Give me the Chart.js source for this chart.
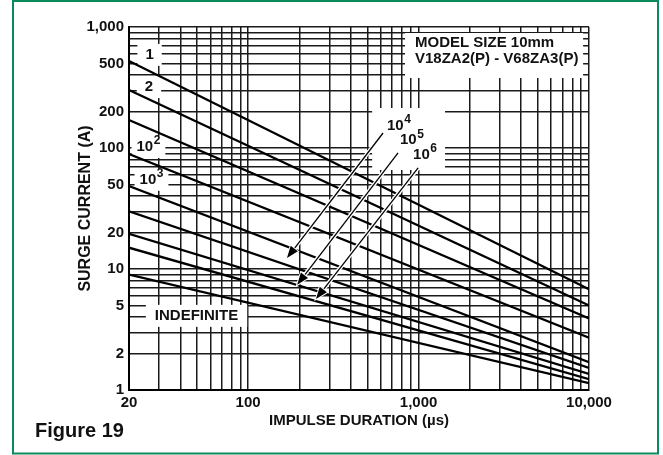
<!DOCTYPE html>
<html>
<head>
<meta charset="utf-8">
<script src="https://cdn.jsdelivr.net/npm/chart.js@4.4.1/dist/chart.umd.min.js"></script>
<style>
  html, body { margin: 0; padding: 0; background: #fff; }
</style>
</head>
<body>
<canvas id="Surge_Chart" width="663" height="455"></canvas>
<script>
// impulse duration (us) where every curve starts and ends
var Durations = [20, 10000];
// surge current (A) of each rating curve at 20us and at 10,000us
var Curve_1 = [524, 6.8];
var Curve_2 = [301, 5.0];
var Curve_10 = [170, 3.9];
var Curve_1e2 = [89, 2.7];
var Curve_1e3 = [48.5, 1.7];
var Curve_1e4 = [30, 1.52];
var Curve_1e5 = [19.5, 1.36];
var Curve_1e6 = [15, 1.23];
var Curve_Indefinite = [9, 1.14];
var Curve_Names = ['1', '2', '10', '10^2', '10^3', '10^4', '10^5', '10^6', 'INDEFINITE'];

// grid lines and tick labels
var X_Grid = [20,30,40,50,60,70,80,90,100,200,300,400,500,600,700,800,900,1000,2000,3000,4000,5000,6000,7000,8000,9000,10000];
var Y_Grid = [1,2,3,4,5,6,7,8,9,10,20,30,40,50,60,70,80,90,100,200,300,400,500,600,700,800,900,1000];
var X_Labels = [20, 100, 1000, 10000];
var Y_Labels = [1, 2, 5, 10, 20, 50, 100, 200, 500, 1000];

var FONT = "'Liberation Sans', Arial, Helvetica, sans-serif";

function fmt(v) {
  return v.toString().replace(/\B(?=(\d{3})+(?!\d))/g, ',');
}

function toPoints(values) {
  return values.map(function (v, i) { return { x: Durations[i], y: v }; });
}

var allCurves = [Curve_1, Curve_2, Curve_10, Curve_1e2, Curve_1e3, Curve_1e4, Curve_1e5, Curve_1e6, Curve_Indefinite];

// text put on the chart, placed in data units (us, A)
var Curve_Tags = [
  { base: '1', sup: '', x: 26.4, y: 588, padX: 8 },
  { base: '2', sup: '', x: 26.2, y: 319, padX: 8 },
  { base: '10', sup: '2', x: 26.0, y: 102, padX: 5 },
  { base: '10', sup: '3', x: 27.1, y: 54.6, padX: 5 },
  { base: 'INDEFINITE', sup: '', x: 49.8, y: 4.1, padX: 9 }
];
var Arrow_Tags = [
  { sup: '4', x: 653, y: 152, from: [619, 133], to: [169, 12.3] },
  { sup: '5', x: 778, y: 116, from: [758, 91], to: [194, 7.4] },
  { sup: '6', x: 929, y: 87.5, from: [994, 68.4], to: [250, 5.65] }
];
var Arrow_Box = { x1: 534, x2: 1430, y1: 214, y2: 65.8 };
var Model_Text = ['MODEL SIZE 10mm', 'V18ZA2(P) - V68ZA3(P)'];
var Model_Box = { x1: 833, x2: 9236, y1: 892, y2: 379, textX: 953, lineY: [737, 544] };

function supText(ctx, base, sup, x, y, centered) {
  ctx.font = 'bold 15px ' + FONT;
  var w1 = ctx.measureText(base).width;
  ctx.font = 'bold 12px ' + FONT;
  var w2 = sup ? ctx.measureText(sup).width + 0.5 : 0;
  var left = centered ? x - (w1 + w2) / 2 : x;
  ctx.fillStyle = '#111';
  ctx.textAlign = 'left';
  ctx.textBaseline = 'middle';
  ctx.font = 'bold 15px ' + FONT;
  ctx.fillText(base, left, y);
  if (sup) {
    ctx.font = 'bold 12px ' + FONT;
    ctx.fillText(sup, left + w1 + 0.5, y - 6);
  }
  return { left: left, width: w1 + w2 };
}

function drawArrow(ctx, x1, y1, x2, y2) {
  var a = Math.atan2(y2 - y1, x2 - x1), L = 12, W = 4.5;
  var bx = x2 - L * Math.cos(a), by = y2 - L * Math.sin(a);
  ctx.lineCap = 'butt';
  ctx.strokeStyle = '#fff';
  ctx.lineWidth = 4;
  ctx.beginPath(); ctx.moveTo(x1, y1); ctx.lineTo(bx, by); ctx.stroke();
  ctx.strokeStyle = '#000';
  ctx.lineWidth = 1.3;
  ctx.beginPath(); ctx.moveTo(x1, y1); ctx.lineTo(bx, by); ctx.stroke();
  ctx.beginPath();
  ctx.moveTo(x2, y2);
  ctx.lineTo(bx + W * Math.sin(a), by - W * Math.cos(a));
  ctx.lineTo(bx - W * Math.sin(a), by + W * Math.cos(a));
  ctx.closePath();
  ctx.strokeStyle = '#fff';
  ctx.lineWidth = 2;
  ctx.stroke();
  ctx.fillStyle = '#000';
  ctx.fill();
}

var notes = {
  id: 'notes',
  beforeDatasetsDraw: function (chart) {
    var ctx = chart.ctx, sx = chart.scales.x, sy = chart.scales.y;
    ctx.save();
    ctx.fillStyle = '#fff';
    // model box
    var mx1 = sx.getPixelForValue(Model_Box.x1), mx2 = sx.getPixelForValue(Model_Box.x2);
    var my1 = sy.getPixelForValue(Model_Box.y1), my2 = sy.getPixelForValue(Model_Box.y2);
    ctx.fillRect(mx1, my1, mx2 - mx1, my2 - my1);
    ctx.fillStyle = '#111';
    ctx.font = 'bold 15px ' + FONT;
    ctx.textAlign = 'left';
    ctx.textBaseline = 'middle';
    Model_Text.forEach(function (t, i) {
      ctx.fillText(t, sx.getPixelForValue(Model_Box.textX), sy.getPixelForValue(Model_Box.lineY[i]));
    });
    // box round the 10^4..10^6 tags
    var ax1 = sx.getPixelForValue(Arrow_Box.x1), ax2 = sx.getPixelForValue(Arrow_Box.x2);
    var ay1 = sy.getPixelForValue(Arrow_Box.y1), ay2 = sy.getPixelForValue(Arrow_Box.y2);
    ctx.fillStyle = '#fff';
    ctx.fillRect(ax1, ay1, ax2 - ax1, ay2 - ay1);
    // curve tags with their white boxes
    Curve_Tags.forEach(function (t) {
      var cx = sx.getPixelForValue(t.x), cy = sy.getPixelForValue(t.y);
      ctx.font = 'bold 15px ' + FONT;
      var w = ctx.measureText(t.base).width;
      ctx.font = 'bold 12px ' + FONT;
      if (t.sup) w += ctx.measureText(t.sup).width + 0.5;
      ctx.fillStyle = '#fff';
      ctx.fillRect(cx - w / 2 - t.padX, cy - 11, w + 2 * t.padX, 22);
      supText(ctx, t.base, t.sup, cx, cy, true);
    });
    ctx.restore();
  },
  afterDatasetsDraw: function (chart) {
    var ctx = chart.ctx, sx = chart.scales.x, sy = chart.scales.y;
    ctx.save();
    Arrow_Tags.forEach(function (t) {
      drawArrow(ctx, sx.getPixelForValue(t.from[0]), sy.getPixelForValue(t.from[1]),
                sx.getPixelForValue(t.to[0]), sy.getPixelForValue(t.to[1]));
    });
    Arrow_Tags.forEach(function (t) {
      supText(ctx, '10', t.sup, sx.getPixelForValue(t.x), sy.getPixelForValue(t.y), false);
    });
    ctx.restore();
  },
  afterDraw: function (chart) {
    var ctx = chart.ctx;
    ctx.save();
    ctx.strokeStyle = '#0b8a5c';
    ctx.lineWidth = 2;
    ctx.strokeRect(13, 1, 645, 452.5);
    ctx.fillStyle = '#111';
    ctx.font = 'bold 20px ' + FONT;
    ctx.textAlign = 'left';
    ctx.textBaseline = 'alphabetic';
    ctx.fillText('Figure 19', 35, 437);
    ctx.restore();
  }
};

var ctx1 = document.getElementById('Surge_Chart');
var SurgeChart = new Chart(ctx1, {
  type: 'line',
  data: {
    datasets: allCurves.map(function (c, i) {
      return {
        label: Curve_Names[i],
        data: toPoints(c),
        borderColor: '#000',
        borderWidth: 2.3,
        pointRadius: 0,
        fill: false
      };
    })
  },
  options: {
    responsive: false,
    animation: false,
    devicePixelRatio: 1,
    layout: { padding: { left: 77, right: 74, top: 27, bottom: 25 } },
    plugins: { legend: { display: false }, tooltip: { enabled: false } },
    scales: {
      x: {
        type: 'logarithmic',
        min: 20,
        max: 10000,
        afterBuildTicks: function (scale) {
          scale.ticks = X_Grid.map(function (v) { return { value: v }; });
        },
        afterFit: function (scale) { scale.height = 40; },
        grid: { color: '#1a1a1a', lineWidth: 1.5, drawTicks: false },
        border: { color: '#000', width: 2 },
        ticks: {
          autoSkip: false,
          maxRotation: 0,
          padding: 4,
          color: '#111',
          font: { family: FONT, size: 15, weight: 'bold' },
          callback: function (v) { return X_Labels.indexOf(v) >= 0 ? fmt(v) : ''; }
        },
        title: {
          display: true,
          text: 'IMPULSE DURATION (\u00b5s)',
          color: '#111',
          padding: 0,
          font: { family: FONT, size: 15, weight: 'bold' }
        }
      },
      y: {
        type: 'logarithmic',
        min: 1,
        max: 1000,
        afterBuildTicks: function (scale) {
          scale.ticks = Y_Grid.map(function (v) { return { value: v }; });
        },
        afterFit: function (scale) { scale.width = 52; },
        grid: { color: '#1a1a1a', lineWidth: 1.5, drawTicks: false },
        border: { color: '#000', width: 2 },
        ticks: {
          autoSkip: false,
          padding: 5,
          color: '#111',
          font: { family: FONT, size: 15, weight: 'bold' },
          callback: function (v) { return Y_Labels.indexOf(v) >= 0 ? fmt(v) : ''; }
        },
        title: {
          display: true,
          text: 'SURGE CURRENT (A)',
          color: '#111',
          padding: { top: -1 },
          font: { family: FONT, size: 16, weight: 'bold' }
        }
      }
    }
  },
  plugins: [notes]
});
</script>
</body>
</html>
